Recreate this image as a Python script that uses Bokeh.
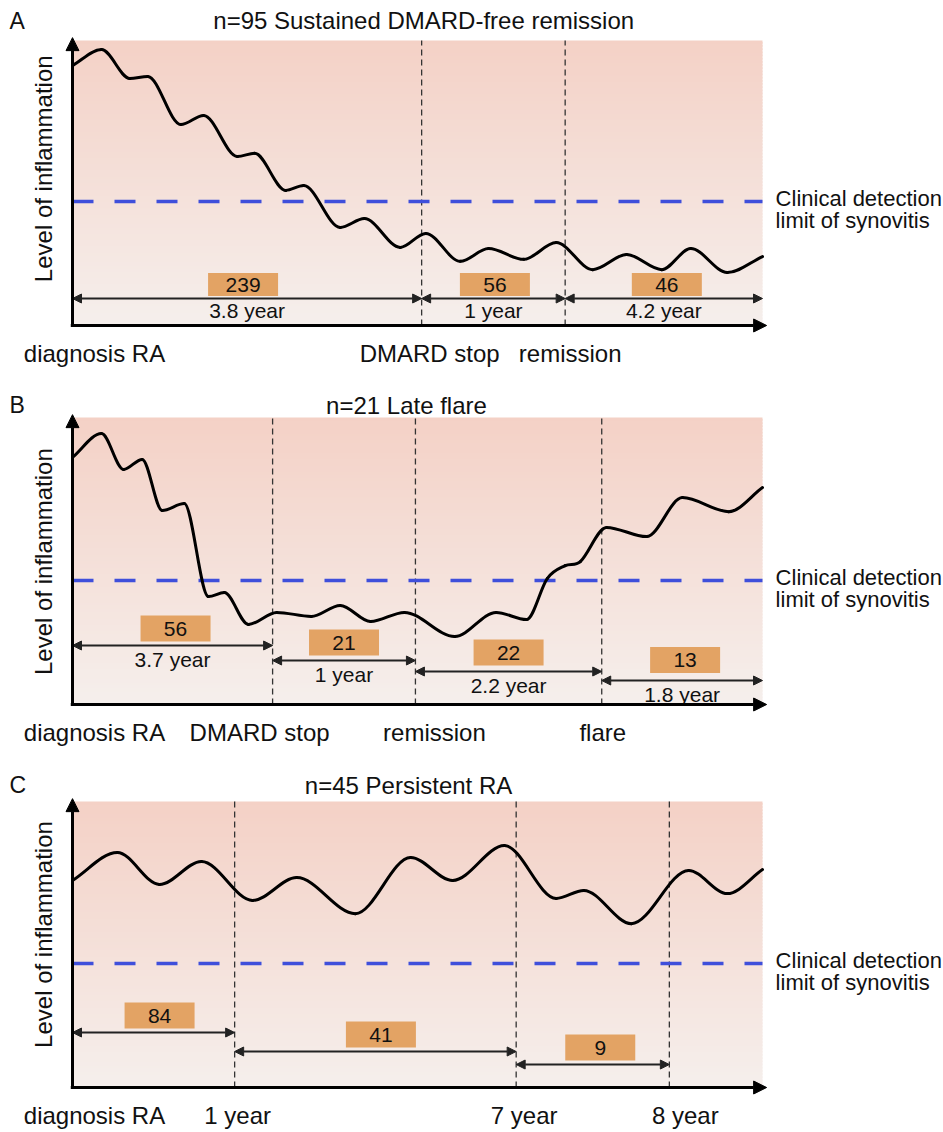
import numpy as np
from bokeh.plotting import figure
from bokeh.models import Range1d, Arrow, NormalHead, ColumnDataSource
from bokeh.layouts import column
from bokeh.core.properties import value
from bokeh.embed import file_html
from bokeh.resources import INLINE

# ---------------------------------------------------------------- data
# schematic units: x = % of the time axis, y = % of the plot height
A_title = "n=95 Sustained DMARD-free remission"
A_curve_x = [0, 4.2, 8.3, 10.9, 15.7, 19.0, 23.9, 26.4, 30.9, 33.5, 38.8, 42.3,
             47.5, 51.2, 56.2, 60.3, 65.4, 70.1, 75.4, 80.3, 85.4, 89.6, 94.9, 100]
A_curve_y = [91.2, 96.8, 86.7, 87.4, 70.5, 73.7, 59.3, 60.4, 47.4, 49.1, 34.4, 37.5,
             27.4, 32.3, 22.5, 27.0, 23.2, 29.1, 19.6, 24.9, 19.6, 27.0, 18.6, 24.2]
A_threshold = 43.5
A_event_x = [0, 50.6, 71.4]
A_event_labels = ["diagnosis RA", "DMARD stop", "remission"]
A_counts = ["239", "56", "46"]
A_durations = ["3.8 year", "1 year", "4.2 year"]

B_title = "n=21 Late flare"
B_curve_x = [0, 4.2, 7.4, 10.1, 13.0, 16.2, 19.7, 22.0, 25.5, 29.6, 34.6, 38.8, 43.2,
             48.1, 55.4, 61.4, 65.8, 68.8, 71.4, 73.6, 77.4, 83.2, 88.4, 95.1, 100]
B_curve_y = [86.1, 94.4, 81.9, 85.4, 67.6, 70.0, 37.6, 39.0, 27.9, 32.1, 30.7, 34.5, 28.9,
             32.1, 23.7, 32.1, 29.6, 43.9, 48.4, 49.8, 61.7, 58.5, 72.1, 67.2, 75.6]
B_threshold = 43.2
B_event_x = [0, 29.0, 49.7, 76.7]
B_event_labels = ["diagnosis RA", "DMARD stop", "remission", "flare"]
B_counts = ["56", "21", "22", "13"]
B_durations = ["3.7 year", "1 year", "2.2 year", "1.8 year"]

C_title = "n=45 Persistent RA"
C_curve_x = [0, 6.5, 12.6, 18.7, 26.1, 32.5, 41.0, 49.0, 55.1, 62.6, 70.1, 74.1,
             81.0, 89.3, 94.9, 100]
C_curve_y = [72.4, 82.2, 71.0, 79.0, 65.4, 73.4, 60.8, 80.4, 72.4, 84.6, 66.1, 68.9,
             57.3, 75.9, 67.8, 76.2]
C_threshold = 43.4
C_event_x = [0, 23.5, 64.3, 86.5]
C_event_labels = ["diagnosis RA", "1 year", "7 year", "8 year"]
C_counts = ["84", "41", "9"]
C_durations = []

Y_LABEL = "Level of inflammation"
THRESHOLD_LABEL = ["Clinical detection", "limit of synovitis"]

# ---------------------------------------------------------------- style / layout
FONT = value("Liberation Sans")
PX_X = 6.9                     # pixels per x unit
X_RANGE = (-72 / 6.9, (943 - 72) / 6.9)
W = 943
BOX_COLOR = "#e3a364"
BLUE = "#3f4fdb"
TOP_RGB = np.array([244, 209, 198])
BOT_RGB = np.array([245, 239, 236])

LAYOUT = {
    "A": dict(h=378, ppu=2.85, ybot=-18.6, brk=[9.47, 9.47, 9.47], box_up=[14, 14, 14],
              box_h=23, box_dx=[-4, 1.5, 3], dur_down=12, lab_dx=[22, 8, 5],
              title_xy=(50.9, 107.0), ylab_y=55.0),
    "B": dict(h=374, ppu=2.87, ybot=-16.72, brk=[20.56, 15.33, 11.50, 8.36],
              box_up=[17, 18, 19, 20.5], box_h=26, box_dx=[3, 0, 0, 3], dur_down=14,
              lab_dx=[22, -13, 19, 1], title_xy=(48.4, 104.2), ylab_y=49.8),
    "C": dict(h=378, ppu=2.86, ybot=-15.03, brk=[19.23, 12.59, 8.04], box_up=[17, 17, 17],
              box_h=26, box_dx=[6, 5.5, 7.5], dur_down=14, lab_dx=[22, 3, 8, 16],
              title_xy=(48.7, 105.6), ylab_y=53.5),
}


def smooth_segments(xs, ys):
    xs = np.asarray(xs, float)
    ys = np.asarray(ys, float)
    n = len(xs)
    m = np.zeros(n)
    for i in range(n):
        if i == 0:
            m[i] = (ys[1] - ys[0]) / (xs[1] - xs[0])
        elif i == n - 1:
            m[i] = (ys[-1] - ys[-2]) / (xs[-1] - xs[-2])
        else:
            d0 = ys[i] - ys[i - 1]
            d1 = ys[i + 1] - ys[i]
            m[i] = 0.0 if d0 * d1 <= 0 else (ys[i + 1] - ys[i - 1]) / (xs[i + 1] - xs[i - 1])
    dx = np.diff(xs)
    return dict(x0=xs[:-1], y0=ys[:-1], x1=xs[1:], y1=ys[1:],
                cx0=xs[:-1] + dx / 3, cy0=ys[:-1] + m[:-1] * dx / 3,
                cx1=xs[1:] - dx / 3, cy1=ys[1:] - m[1:] * dx / 3)


def make_panel(key, letter, title, cx, cy, thr, ev_x, ev_lab, counts, durs):
    L = LAYOUT[key]
    ppu = L["ppu"]
    ytop = L["ybot"] + L["h"] / ppu
    p = figure(width=W, height=L["h"], output_backend="svg", toolbar_location=None,
               x_axis_type=None, y_axis_type=None, min_border=0,
               x_range=Range1d(*X_RANGE), y_range=Range1d(L["ybot"], ytop))
    p.outline_line_color = None
    p.grid.visible = False
    p.background_fill_color = "white"
    p.border_fill_color = "white"

    # gradient background
    N = 90
    edges = np.linspace(0, 100, N + 1)
    t = (np.arange(N) + 0.5) / N
    cols = ["#%02x%02x%02x" % tuple(int(round(c)) for c in BOT_RGB + (TOP_RGB - BOT_RGB) * ti)
            for ti in t]
    tops = np.minimum(edges[1:] + 0.6, 100)
    p.quad(left=0, right=100, bottom=edges[:-1], top=tops, fill_color=cols, line_color=None)

    # event dashed lines
    marks = ev_x[1:]
    p.segment(x0=marks, y0=[0] * len(marks), x1=marks, y1=[100] * len(marks),
              line_color="#333333", line_width=1.3, line_dash="6 4")

    # clinical detection limit
    p.line(x=[0, 100], y=[thr, thr], line_color=BLUE, line_width=3.5, line_dash="21 21")

    # curve
    seg = smooth_segments(cx, cy)
    p.bezier(source=ColumnDataSource(seg), x0="x0", y0="y0", x1="x1", y1="y1",
             cx0="cx0", cy0="cy0", cx1="cx1", cy1="cy1",
             line_color="black", line_width=3, line_cap="round")

    # brackets
    bounds = list(ev_x) + ([100] if len(counts) == len(ev_x) else [])
    xs = bounds[:-1]
    xe = bounds[1:]
    mids = [(a + b) / 2 for a, b in zip(xs, xe)]
    brk = L["brk"]
    src = ColumnDataSource(dict(xs=xs, xe=xe, y=brk))
    p.add_layout(Arrow(source=src, x_start="xs", y_start="y", x_end="xe", y_end="y",
                       line_color="#222222", line_width=1.8,
                       start=NormalHead(size=9, fill_color="#222222", line_color="#222222"),
                       end=NormalHead(size=9, fill_color="#222222", line_color="#222222")))

    box_x = [m + d / PX_X for m, d in zip(mids, L["box_dx"])]
    box_y = [b + u / ppu for b, u in zip(brk, L["box_up"])]
    p.rect(x=box_x, y=box_y, width=70, height=L["box_h"], width_units="screen",
           height_units="screen", fill_color=BOX_COLOR, line_color=None)
    p.text(x=box_x, y=box_y, text=counts, text_font=FONT, text_font_size=value("21px"),
           text_align="center", text_baseline="middle", text_color="#111111")

    if durs:
        dy = [b - L["dur_down"] / ppu for b in brk]
        p.text(x=mids, y=dy, text=durs, text_font=FONT, text_font_size=value("21px"),
               text_align="center", text_baseline="middle", text_color="#111111")

    # axes with arrowheads
    p.add_layout(Arrow(x_start=-0.25, y_start=0, x_end=100.6, y_end=0,
                       line_color="black", line_width=3,
                       end=NormalHead(size=13, fill_color="black", line_color="black")))
    p.add_layout(Arrow(x_start=0, y_start=-0.5, x_end=0, y_end=101.0,
                       line_color="black", line_width=3,
                       end=NormalHead(size=13, fill_color="black", line_color="black")))

    # event labels under the axis
    lx = [e + d / PX_X for e, d in zip(ev_x, L["lab_dx"])]
    p.text(x=lx, y=[-9.8] * len(lx), text=ev_lab, text_font=FONT,
           text_font_size=value("24px"), text_align="center", text_baseline="middle",
           text_color="#111111")

    # threshold label
    p.text(x=[101.9, 101.9], y=[thr + 3 / ppu, thr - 19 / ppu], text=THRESHOLD_LABEL,
           text_font=FONT, text_font_size=value("22px"), text_align="left",
           text_baseline="middle", text_color="#111111")

    # y-axis label
    p.text(x=[-4.2], y=[L["ylab_y"]], text=[Y_LABEL], angle=np.pi / 2, text_font=FONT,
           text_font_size=value("24px"), text_align="center", text_baseline="middle",
           text_color="#111111")

    # title and panel letter
    tx, ty = L["title_xy"]
    p.text(x=[tx], y=[ty], text=[title], text_font=FONT, text_font_size=value("24px"),
           text_align="center", text_baseline="middle", text_color="#111111")
    p.text(x=[-9.13], y=[ty], text=[letter], text_font=FONT, text_font_size=value("23px"),
           text_align="left", text_baseline="middle", text_color="#111111")
    return p


pA = make_panel("A", "A", A_title, A_curve_x, A_curve_y, A_threshold, A_event_x,
                A_event_labels, A_counts, A_durations)
pB = make_panel("B", "B", B_title, B_curve_x, B_curve_y, B_threshold, B_event_x,
                B_event_labels, B_counts, B_durations)
pC = make_panel("C", "C", C_title, C_curve_x, C_curve_y, C_threshold, C_event_x,
                C_event_labels, C_counts, C_durations)

layout = column(pA, pB, pC, spacing=0)
open("out.html", "w").write(file_html(layout, INLINE))
